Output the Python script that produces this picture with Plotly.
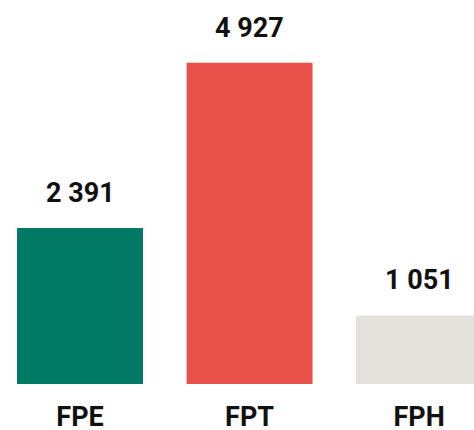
import plotly.graph_objects as go

categories = ["FPE", "FPT", "FPH"]
values = [2391, 4927, 1051]
value_labels = ["2 391", "4 927", "1 051"]
colors = ["#007A64", "#E9524A", "#E4E1DA"]

fig = go.Figure()
fig.add_trace(go.Bar(
    x=categories, y=values, marker=dict(color=colors, line=dict(width=0)),
    width=0.743, hoverinfo="skip",
))
for c, v, t in zip(categories, values, value_labels):
    fig.add_annotation(x=c, y=v, text=t, showarrow=False, yanchor="bottom",
                       yshift=17, font=dict(family="Roboto", size=27, color="#111111", weight="bold"))

fig.update_layout(
    width=474, height=430,
    margin=dict(l=0, r=0, t=0, b=46),
    paper_bgcolor="white", plot_bgcolor="white",
    showlegend=False,
    xaxis=dict(range=[-0.472, 2.324], showgrid=False, zeroline=False, showline=False,
               ticks="", tickfont=dict(family="Roboto", size=27, color="#111111", weight="bold"),
               ticklabelstandoff=14, automargin=False),
    yaxis=dict(range=[0, 5890], visible=False),
)
fig.write_html("out.html", config={"displayModeBar": False},
               post_script="document.body.style.margin='0';document.body.style.overflow='hidden';")
